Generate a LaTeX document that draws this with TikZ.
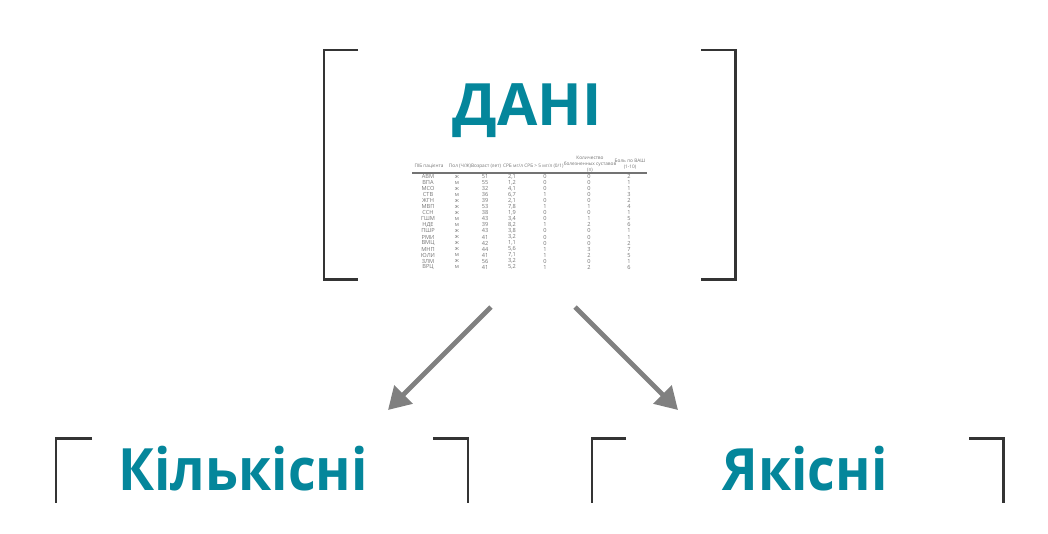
\documentclass[tikz,border=0pt]{standalone}
\usepackage{fontspec}
\setmainfont{Open Sans}
\newfontfamily\narrowsans{Open Sans}[FakeStretch=0.92]
\usepackage{xcolor}
\usepackage{tikz}
\usetikzlibrary{arrows.meta,positioning,calc}
\definecolor{dataTeal}{RGB}{4,134,155}
\definecolor{bracketGray}{RGB}{52,52,52}
\definecolor{arrowGray}{RGB}{128,128,128}
\definecolor{tableGray}{RGB}{115,115,115}

\tikzset{
  bracket/.style={bracketGray, line width=0.85pt},
  title/.style={dataTeal, font=\fontsize{16.6}{18}\selectfont\bfseries, inner sep=0pt},
  subtitle/.style={title, font=\narrowsans\fontsize{16.6}{18}\selectfont\bfseries},
  branch/.style={arrowGray, line width=1.4pt, -{Triangle[length=0.22cm,width=0.25cm]}},
  cell/.style={tableGray, font=\fontsize{1.6}{1.9}\selectfont, inner sep=0pt, align=center},
  head/.style={cell, font=\fontsize{1.35}{1.7}\selectfont},
}

\begin{document}
\begin{tikzpicture}[x=0.01cm, y=-0.01cm]
  \useasboundingbox (0,0) rectangle (1048,533);
  % brackets
  \draw[bracket] (358,50) -- (324,50) -- (324,279) -- (358,279);
  \draw[bracket] (701,50) -- (735,50) -- (735,279) -- (701,279);
  \draw[bracket] (92,438) -- (56,438) -- (56,503);
  \draw[bracket] (433,438) -- (468,438) -- (468,503);
  \draw[bracket] (626,438) -- (592,438) -- (592,503);
  \draw[bracket] (969,438) -- (1003,438) -- (1003,503);
  % titles
  \node[title, anchor=base] (dani) at (527,125) {ДАНІ};
  \node[subtitle, anchor=base] (kilk) at (243,490) {Кількісні};
  \node[subtitle, anchor=base] (yakis) at (805,490) {Якісні};
  % table
  \node[head] (h1) at (429,166) {ПІБ пацієнта};
  \node[head] (h2) at (460,166) {Пол (Ч/Ж)};
  \node[head] (h3) at (486,166) {Возраст (лет)};
  \node[head] (h4) at (513,166) {СРБ мг/л};
  \node[head] (h5) at (544,166) {СРБ > 5 мг/л (0/1)};
  \node[head] (h6) at (590,164) {Количество\\болезненных суставов\\(n)};
  \node[head] (h7) at (630,164) {Боль по ВАШ\\(1-10)};
  \draw[tableGray, line width=0.3pt] (412,173) -- (647,173);
  \foreach \name/\sex/\age/\crp/\flag/\num/\pain [count=\i] in {
      АВМ/ж/51/{2,1}/0/0/2, ВПА/м/55/{1,2}/0/0/1, МСО/ж/32/{4,1}/0/0/1,
      СТВ/м/36/{6,7}/1/0/3, ЖГН/ж/39/{2,1}/0/0/2, МВП/ж/53/{7,8}/1/1/4,
      ССН/ж/38/{1,9}/0/0/1, ГШМ/м/43/{3,4}/0/1/5, НДЕ/м/39/{8,2}/1/2/6,
      ПШР/ж/43/{3,8}/0/0/1, РМИ/ж/41/{3,2}/0/0/1, ВМЦ/ж/42/{1,1}/0/0/2,
      МНП/ж/44/{5,6}/1/3/7, ЮЛИ/м/41/{7,1}/1/2/5, ЗЛМ/ж/56/{3,2}/0/0/1,
      ВРЦ/м/41/{5,2}/1/2/6} {
    \pgfmathsetmacro{\ry}{176.5+6.05*(\i-1)}
    \node[cell] at (428,\ry) {\name};
    \node[cell] at (457,\ry) {\sex};
    \node[cell] at (485,\ry) {\age};
    \node[cell] at (512,\ry) {\crp};
    \node[cell] at (545,\ry) {\flag};
    \node[cell] at (589,\ry) {\num};
    \node[cell] at (629,\ry) {\pain};
  }
  % arrows
  \coordinate (leftStart) at (491,307);
  \coordinate (leftEnd) at (388,410);
  \coordinate (rightStart) at (575,307);
  \coordinate (rightEnd) at (678,410);
  \draw[branch] (leftStart) -- (leftEnd);
  \draw[branch] (rightStart) -- (rightEnd);
\end{tikzpicture}
\end{document}
